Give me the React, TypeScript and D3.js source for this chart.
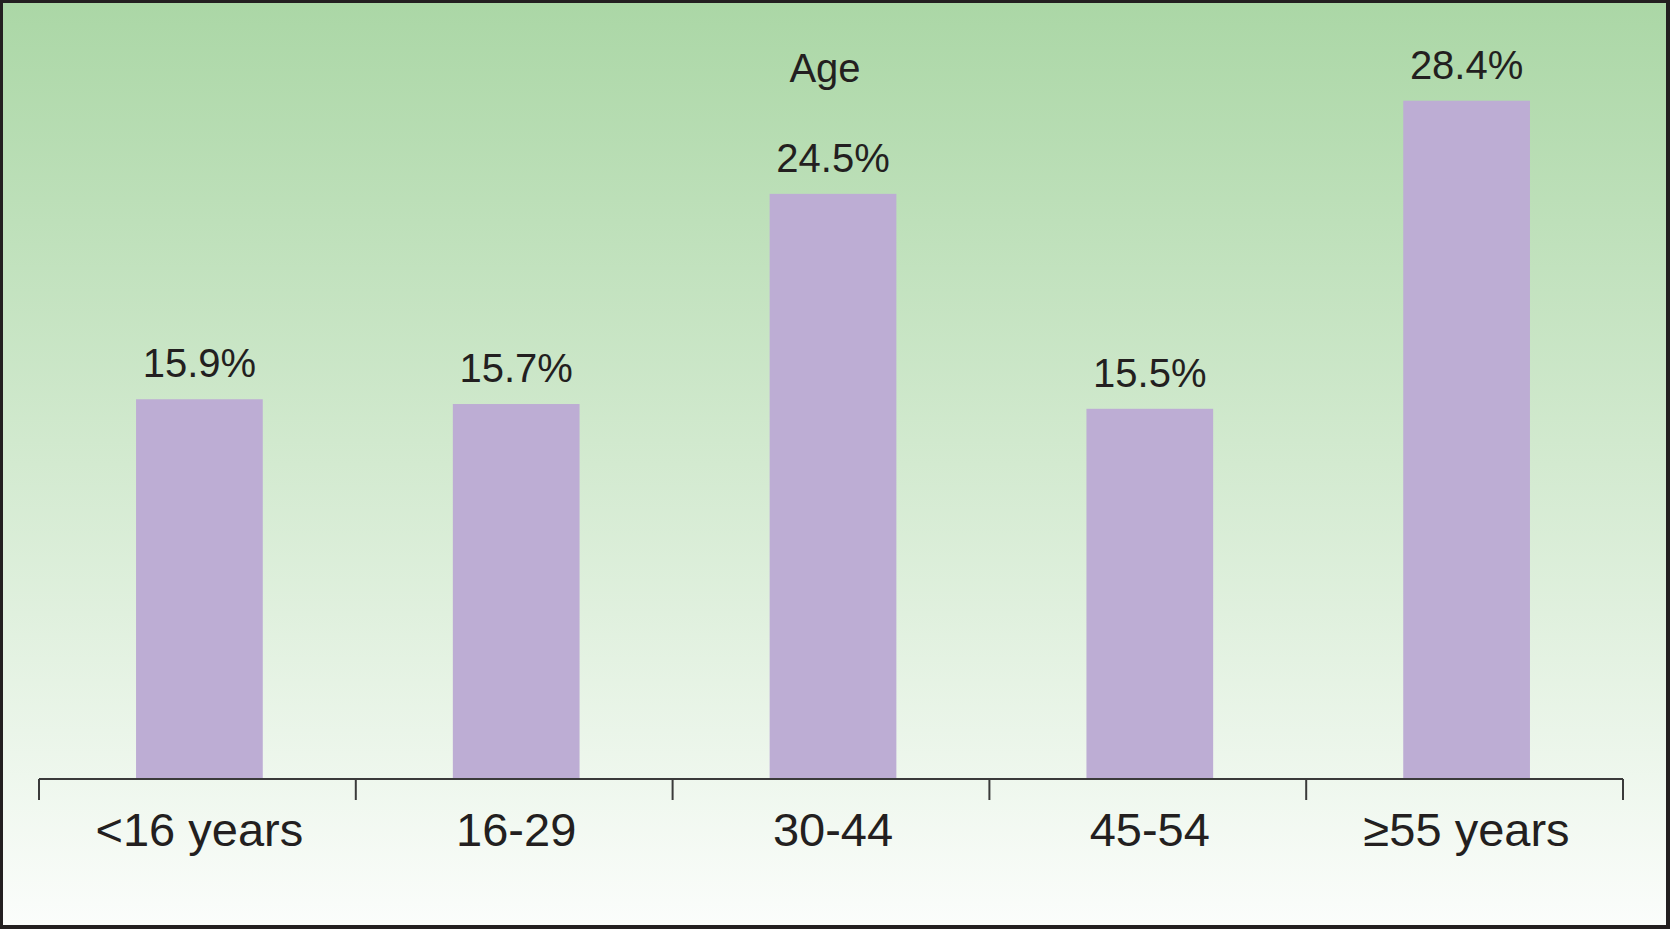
import React, { useRef, useEffect } from 'react';
import * as d3 from 'd3';

const categories = ['<16 years', '16-29', '30-44', '45-54', '≥55 years'];
const percents = [15.9, 15.7, 24.5, 15.5, 28.4];
const valueLabels = ['15.9%', '15.7%', '24.5%', '15.5%', '28.4%'];
const chartTitle = 'Age';

const W = 1670;
const H = 929;
const FONT = '"Liberation Sans", Arial, Helvetica, sans-serif';

function App() {
  const ref = useRef<SVGSVGElement>(null);

  useEffect(() => {
    const svg = d3.select(ref.current);
    svg.selectAll('*').remove();

    const axisY = 779;
    const left = 39;
    const right = 1623;

    // background gradient
    const defs = svg.append('defs');
    const grad = defs.append('linearGradient')
      .attr('id', 'bg')
      .attr('x1', 0).attr('y1', 0)
      .attr('x2', 0).attr('y2', 1);
    grad.append('stop').attr('offset', '0%').attr('stop-color', '#abd7a6');
    grad.append('stop').attr('offset', '50%').attr('stop-color', '#d3ead0');
    grad.append('stop').attr('offset', '100%').attr('stop-color', '#fbfdfb');

    svg.append('rect')
      .attr('x', 0).attr('y', 0)
      .attr('width', W).attr('height', H)
      .attr('fill', '#231f20');
    svg.append('rect')
      .attr('x', 3).attr('y', 3)
      .attr('width', W - 7).attr('height', H - 7)
      .attr('fill', 'url(#bg)');

    const x = d3.scaleBand<string>()
      .domain(categories)
      .range([left, right])
      .paddingInner(0.6)
      .paddingOuter(0.3);

    const xTicks = d3.scaleBand<string>()
      .domain(categories)
      .range([left, right])
      .padding(0);

    const y = d3.scaleLinear()
      .domain([0, 28.4])
      .range([axisY, 100.7]);

    // bars
    svg.append('g')
      .selectAll('rect')
      .data(percents)
      .join('rect')
      .attr('x', (d, i) => (x(categories[i]) as number) + 2)
      .attr('y', d => y(d))
      .attr('width', x.bandwidth())
      .attr('height', d => y(0) - y(d))
      .attr('fill', '#bdadd4');

    // value labels
    svg.append('g')
      .selectAll('text')
      .data(percents)
      .join('text')
      .attr('x', (d, i) => (x(categories[i]) as number) + x.bandwidth() / 2 + 2)
      .attr('y', d => y(d) - 22)
      .attr('text-anchor', 'middle')
      .style('font-family', FONT)
      .style('font-size', '40px')
      .attr('fill', '#231f20')
      .text((d, i) => valueLabels[i]);

    // axis line + ticks
    const axis = svg.append('g').attr('stroke', '#3a3a3a').attr('stroke-width', 2);
    axis.append('line')
      .attr('x1', left).attr('x2', right)
      .attr('y1', axisY).attr('y2', axisY);
    const tickXs = categories.map(c => xTicks(c) as number).concat([right]);
    axis.selectAll('line.tick')
      .data(tickXs)
      .join('line')
      .attr('class', 'tick')
      .attr('x1', d => d).attr('x2', d => d)
      .attr('y1', axisY).attr('y2', axisY + 21);

    // category labels
    svg.append('g')
      .selectAll('text')
      .data(categories)
      .join('text')
      .attr('x', d => (xTicks(d) as number) + xTicks.bandwidth() / 2 + 2)
      .attr('y', 846)
      .attr('text-anchor', 'middle')
      .style('font-family', FONT)
      .style('font-size', '47px')
      .attr('fill', '#231f20')
      .text(d => d);

    svg.append('text')
      .attr('x', 825)
      .attr('y', 82)
      .attr('text-anchor', 'middle')
      .style('font-family', FONT)
      .style('font-size', '40px')
      .attr('fill', '#231f20')
      .text(chartTitle);
  }, []);

  return (
    <svg
      ref={ref}
      width={W}
      height={H}
      style={{ position: 'absolute', left: 0, top: 0, display: 'block' }}
    />
  );
}

export default App;
